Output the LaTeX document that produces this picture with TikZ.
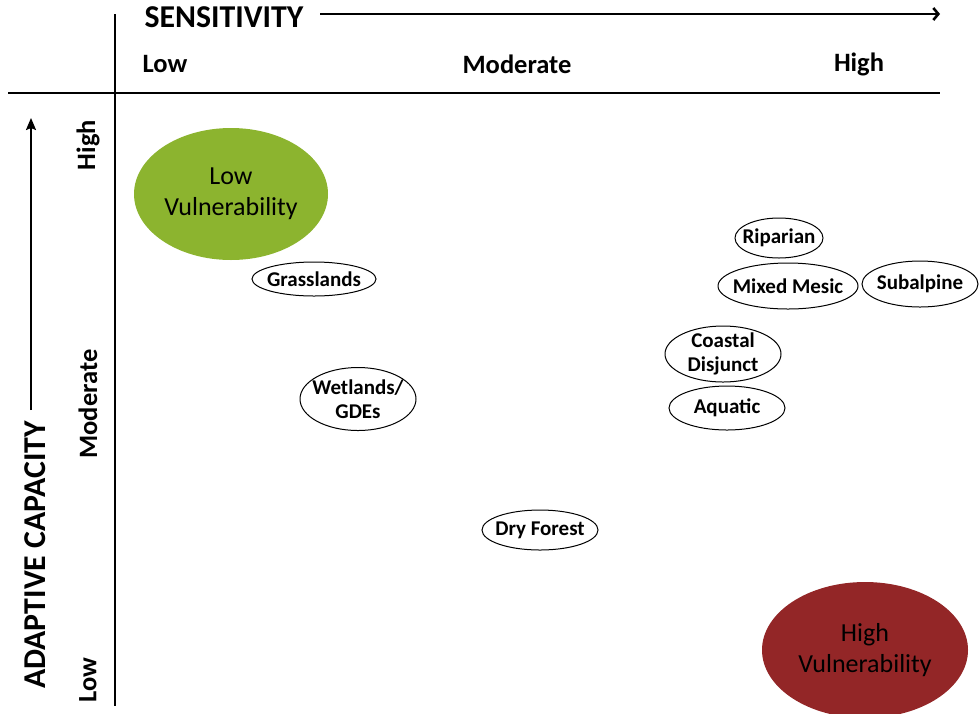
\documentclass[tikz,border=0pt]{standalone}
\usepackage{fontspec}
\setmainfont{Carlito}
\usetikzlibrary{shapes.geometric,arrows.meta}
\definecolor{lowgreen}{HTML}{8CB42F}
\definecolor{highred}{HTML}{932627}
\tikzset{
  axis/.style={line width=2pt},
  sensarrow/.style={line width=2pt,-{Straight Barb[length=5pt,width=12pt,line width=2.6pt]}},
  capsarrow/.style={line width=2pt,-{Stealth[length=12pt,width=10pt,inset=2pt]}},
  hdr/.style={font=\bfseries\fontsize{31.8}{34}\selectfont, inner sep=0pt},
  lvl/.style={font=\bfseries\fontsize{26.5}{28}\selectfont, inner sep=0pt},
  eco/.style={ellipse, draw, line width=1pt, inner sep=-22pt, align=center,
     font=\bfseries\fontsize{21}{24}\selectfont},
  vul/.style={ellipse, draw=none, inner sep=-22pt, align=center,
     font=\fontsize{26}{31}\selectfont}
}
\begin{document}
\begin{tikzpicture}[x=1pt,y=-1pt]
\useasboundingbox (0,0) rectangle (979,713);
% axes
\coordinate (vt) at (115,14);
\coordinate (vb) at (115,706);
\coordinate (hl) at (8,93);
\coordinate (hr) at (940,93);
\draw[axis] (vt) -- (vb);
\draw[axis] (hl) -- (hr);
% header
\node[hdr] (sens) at (224,17) {SENSITIVITY};
\coordinate (sa) at (320,14);
\coordinate (sb) at (940,14);
\draw[sensarrow] (sa) -- (sb);
\node[lvl] (slow) at (165,64) {Low};
\node[lvl] (smod) at (517,64) {Moderate};
\node[lvl] (shigh) at (859,64) {High};
% left
\node[hdr, rotate=90] (adc) at (35,555) {ADAPTIVE CAPACITY};
\coordinate (aa) at (31,410);
\coordinate (ab) at (31,118);
\draw[capsarrow] (aa) -- (ab);
\node[lvl, rotate=90] (ahigh) at (88,145) {High};
\node[lvl, rotate=90] (amod) at (88,404) {Moderate};
\node[lvl, rotate=90] (alow) at (88,680) {Low};
% vulnerability ellipses
\node[vul, fill=lowgreen, minimum width=194, minimum height=132] (lowv) at (231,194) {Low\\Vulnerability};
\node[vul, fill=highred, minimum width=206, minimum height=136] (highv) at (865,650) {High\\Vulnerability};
% ecosystems
\node[eco, minimum width=124, minimum height=34] (grass) at (314,279) {Grasslands};
\node[eco, minimum width=116, minimum height=63] (wet) at (358,399) {Wetlands/\\GDEs};
\node[eco, minimum width=116, minimum height=40] (dry) at (540,530) {Dry Forest};
\node[eco, minimum width=88, minimum height=40] (rip) at (779,238) {Riparian};
\node[eco, minimum width=140, minimum height=46] (mix) at (788,286) {Mixed Mesic};
\node[eco, minimum width=116, minimum height=46] (sub) at (920,284) {Subalpine};
\node[eco, minimum width=116, minimum height=56] (coast) at (723,354) {Coastal\\Disjunct};
\node[eco, minimum width=116, minimum height=44] (aqua) at (727,408) {Aquatic};
\end{tikzpicture}
\end{document}
